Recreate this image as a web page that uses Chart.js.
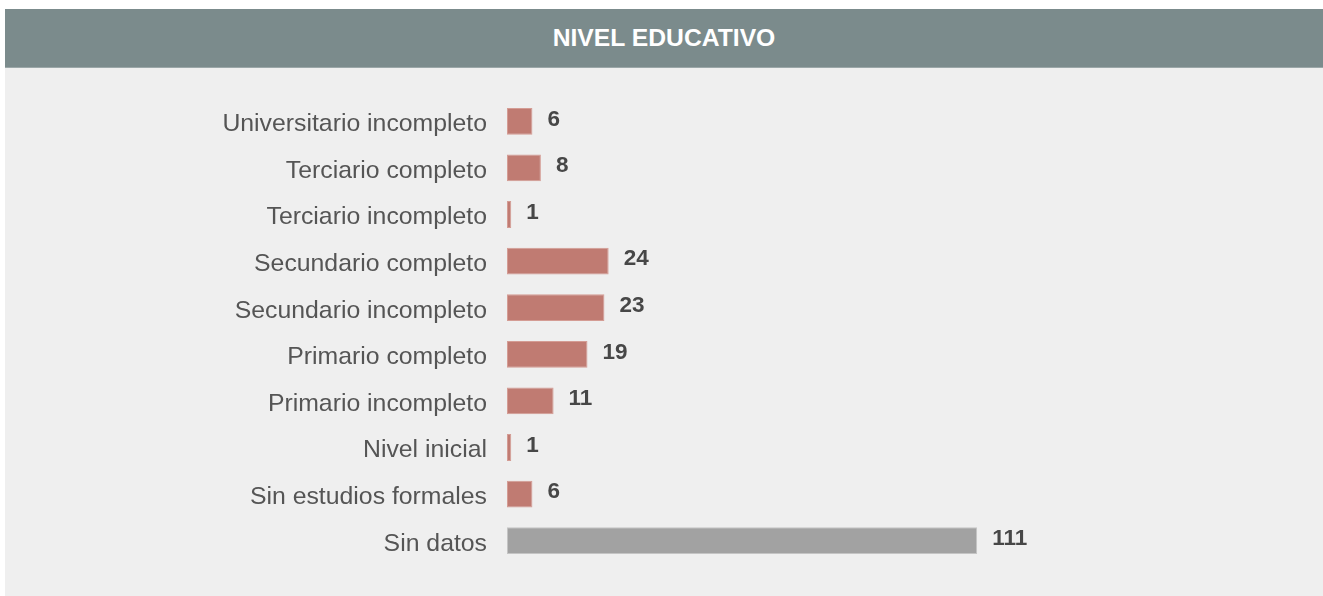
<!DOCTYPE html>
<html>
<head>
<meta charset="utf-8">
<script src="https://cdn.jsdelivr.net/npm/chart.js@4"></script>
<style>
  html, body { margin: 0; padding: 0; background: #ffffff; width: 1323px; height: 596px; overflow: hidden; }
  #panel { position: absolute; left: 5px; top: 9px; width: 1318px; height: 587px; background: #efefef; }
  #header { height: 59px; background: #7b8b8c; border-bottom: 1px solid #9ba7a8; box-sizing: border-box;
            color: #ffffff; font-family: "Liberation Sans", Arial, sans-serif; font-weight: bold; font-size: 24.7px;
            text-align: center; line-height: 57px; }
  #wrap { position: absolute; left: 0; top: 60px; width: 1318px; height: 527px; }
</style>
</head>
<body>
<div id="panel">
  <div id="header">NIVEL EDUCATIVO</div>
  <div id="wrap"><canvas id="c" width="1318" height="527"></canvas></div>
</div>
<script>
const categories = [
  "Universitario incompleto",
  "Terciario completo",
  "Terciario incompleto",
  "Secundario completo",
  "Secundario incompleto",
  "Primario completo",
  "Primario incompleto",
  "Nivel inicial",
  "Sin estudios formales",
  "Sin datos"
];
const values = [6, 8, 1, 24, 23, 19, 11, 1, 6, 111];
const noDataCategory = "Sin datos";

const FONT = '"Liberation Sans", Arial, sans-serif';

const valueLabels = {
  id: 'valueLabels',
  afterDatasetsDraw(chart) {
    const ctx = chart.ctx;
    const meta = chart.getDatasetMeta(0);
    ctx.save();
    ctx.font = 'bold 22.5px ' + FONT;
    ctx.fillStyle = '#474747';
    ctx.textAlign = 'left';
    ctx.textBaseline = 'middle';
    meta.data.forEach((bar, i) => {
      ctx.fillText(String(values[i]), bar.x + 15, bar.y - 2);
    });
    ctx.restore();
  }
};

new Chart(document.getElementById('c'), {
  type: 'bar',
  data: {
    labels: categories,
    datasets: [{
      data: values,
      backgroundColor: categories.map(c => c === noDataCategory ? '#a2a2a2' : '#c07b72'),
      borderColor: categories.map(c => c === noDataCategory ? '#c4c4c4' : '#d49c94'),
      borderWidth: 1,
      borderSkipped: false,
      barPercentage: 0.575,
      categoryPercentage: 1.0
    }]
  },
  options: {
    indexAxis: 'y',
    responsive: false,
    animation: false,
    layout: { padding: { left: 0, right: 309, top: 29, bottom: 32 } },
    plugins: { legend: { display: false }, tooltip: { enabled: false } },
    scales: {
      x: { display: false, min: 0, max: 119.7 },
      y: {
        grid: { display: false },
        border: { display: false },
        ticks: { color: '#555555', font: { family: FONT, size: 24.8 }, padding: 12, labelOffset: 3 },
        afterFit(scale) { scale.width = 502; }
      }
    }
  },
  plugins: [valueLabels]
});
</script>
</body>
</html>
